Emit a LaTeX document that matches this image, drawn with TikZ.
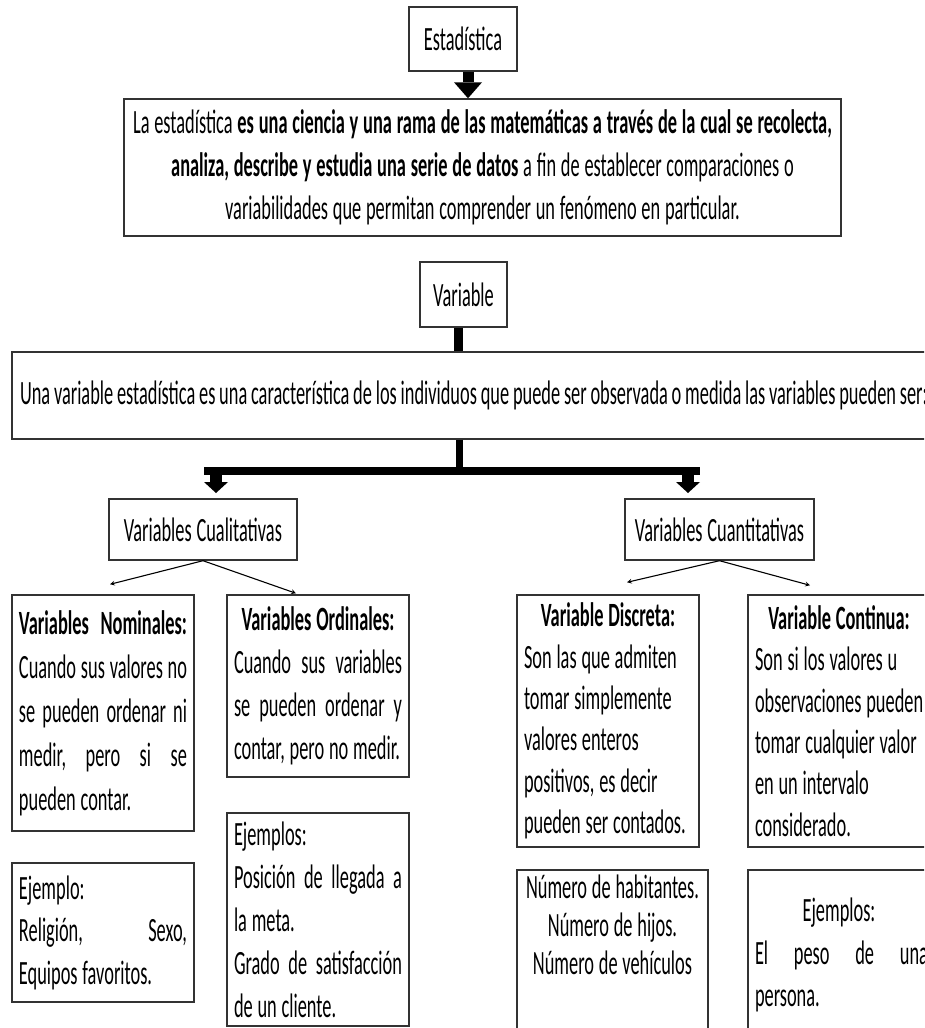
\documentclass[tikz,border=0pt]{standalone}
\usepackage{fontspec}
\setmainfont{Carlito}[FakeStretch=0.54]
\usetikzlibrary{calc}

\newcommand{\letra}[1]{\fontsize{34}{#1}\selectfont}
\newcommand{\jl}[1]{\makebox[\linewidth][s]{\spaceskip=4.8pt plus 1fil\relax#1}}
\newcommand{\cl}[1]{\makebox[\linewidth][c]{#1}}
\hyphenpenalty=10000
\frenchspacing

\tikzset{
	every node/.style={execute at begin node={\spaceskip=4.8pt\xspaceskip=4.8pt\relax}},
	titulo/.style={draw=black!80, line width=1.4pt, inner sep=0pt, font=\letra{43}},
	caja/.style={draw=black!80, line width=1.4pt, inner xsep=7pt, inner ysep=0pt, align=left, font=\letra{43}},
	tronco/.style={line width=8pt},
	flecha/.style={line width=1.1pt, -stealth}
}

\begin{document}
\begin{tikzpicture}[x=1pt,y=-1pt]
	\useasboundingbox (0,0) rectangle (924,1028);
	\clip (0,0) rectangle (924,1028);

	\node[titulo, minimum width=108, minimum height=64] (est) at (463,39) {Estadística};
	\node[titulo, minimum width=717, minimum height=137, text width=715, align=center] (def) at (482.5,167.5)
		{La estadística \textbf{es una ciencia y una rama de las matemáticas a través de la cual se recolecta,}\\
		\textbf{analiza, describe y estudia una serie de datos} a fin de establecer comparaciones o\\
		variabilidades que permitan comprender un fenómeno en particular.};
	\node[titulo, minimum width=87, minimum height=65] (var) at (463.5,294.5) {Variable};
	\node[caja, inner xsep=8pt, minimum height=87, text width=1000,
		execute at begin node={\spaceskip=3.8pt\relax}] (vdef) at (520,395.5)
		{Una variable estadística es una característica de los individuos que puede ser observada o medida las variables pueden ser:};
	\node[titulo, minimum width=188, minimum height=61] (cual) at (203,529.5) {Variables Cualitativas};
	\node[titulo, minimum width=189, minimum height=61] (cuan) at (719.5,529.5) {Variables Cuantitativas};

	\node[caja, minimum width=182, minimum height=236, text width=168, font=\letra{44}] (nom) at (103,713)
		{\jl{\textbf{Variables Nominales:}}\\ \jl{Cuando sus valores no}\\ \jl{se pueden ordenar ni}\\ \jl{medir, pero si se}\\ pueden contar.};
	\node[caja, minimum width=182, minimum height=182, text width=168] (ord) at (318,686)
		{\cl{\textbf{Variables Ordinales:}}\\ \jl{Cuando sus variables}\\ \jl{se pueden ordenar y}\\ contar, pero no medir.};
	\node[caja, minimum width=182, minimum height=139, text width=168, font=\letra{42.5}] (nomej) at (103,932.5)
		{Ejemplo:\\ \jl{Religión, Sexo,}\\ Equipos favoritos.};
	\node[caja, minimum width=182, minimum height=213, text width=168] (ordej) at (318,919.5)
		{Ejemplos:\\ \jl{Posición de llegada a}\\ la meta.\\ \jl{Grado de satisfacción}\\ de un cliente.};

	\node[caja, minimum width=182, minimum height=252, text width=168, font=\letra{41.4}] (dis) at (608,721)
		{\cl{\textbf{Variable Discreta:}}\\ Son las que admiten\\ tomar simplemente\\ valores enteros\\ positivos, es decir\\ pueden ser contados.};
	\node[caja, minimum width=192, minimum height=252, text width=178, font=\letra{41.4}] (con) at (844,721)
		{\makebox[168pt][c]{\textbf{Variable Continua:}}\\ Son si los valores u\\ observaciones pueden\\ tomar cualquier valor\\ en un intervalo\\ considerado.};
	\node[caja, minimum width=191, minimum height=170] (disej) at (612.5,955) {};
	\node[font=\letra{38}, align=center, inner sep=0pt] (disejtxt) at (612.5,925)
		{Número de habitantes.\\ Número de hijos.\\ Número de vehículos};
	\node[caja, minimum width=192, minimum height=170, text width=178, font=\letra{42.5}] (conej) at (844,955)
		{\makebox[168pt][c]{Ejemplos:}\\ \makebox[173pt][s]{\spaceskip=4.8pt plus 1fil\relax El peso de una}\\ persona.};

	\coordinate (a1) at ([xshift=5pt]est.south);
	\coordinate (a2) at ([xshift=5pt]est.south |- def.north);
	\draw[line width=11pt] (a1) -- ($(a2)+(0,-16)$);
	\fill ($(a2)+(-14,-16)$) -- ($(a2)+(14,-16)$) -- (a2) -- cycle;

	\draw[tronco, line width=9pt] ([xshift=-5pt]var.south) -- ([xshift=-5pt]var.south |- vdef.north);

	\coordinate (rama) at (459,471);
	\coordinate (izq) at (216,471);
	\coordinate (der) at (688,471);
	\coordinate (izqfin) at (216,493);
	\coordinate (derfin) at (688,493);
	\draw[tronco, line width=7pt] (vdef.south -| rama) -- (rama);
	\draw[tronco] ([xshift=-12pt]izq) -- ([xshift=12pt]der);
	\foreach \p in {izqfin,derfin}{
		\draw[line width=12pt] (\p |- rama) -- ($(\p)+(0,-11)$);
		\fill ($(\p)+(-12,-11)$) -- ($(\p)+(12,-11)$) -- (\p) -- cycle;
	}

	\draw[flecha] (cual.south) -- ($(nom.north)+(7,-10)$);
	\draw[flecha] (cual.south) -- ($(ord.north)+(-22,-1)$);
	\draw[flecha] (cuan.south) -- ($(dis.north)+(19,-12)$);
	\draw[flecha] (cuan.south) -- ($(con.north)+(-34,-9)$);
\end{tikzpicture}
\end{document}
